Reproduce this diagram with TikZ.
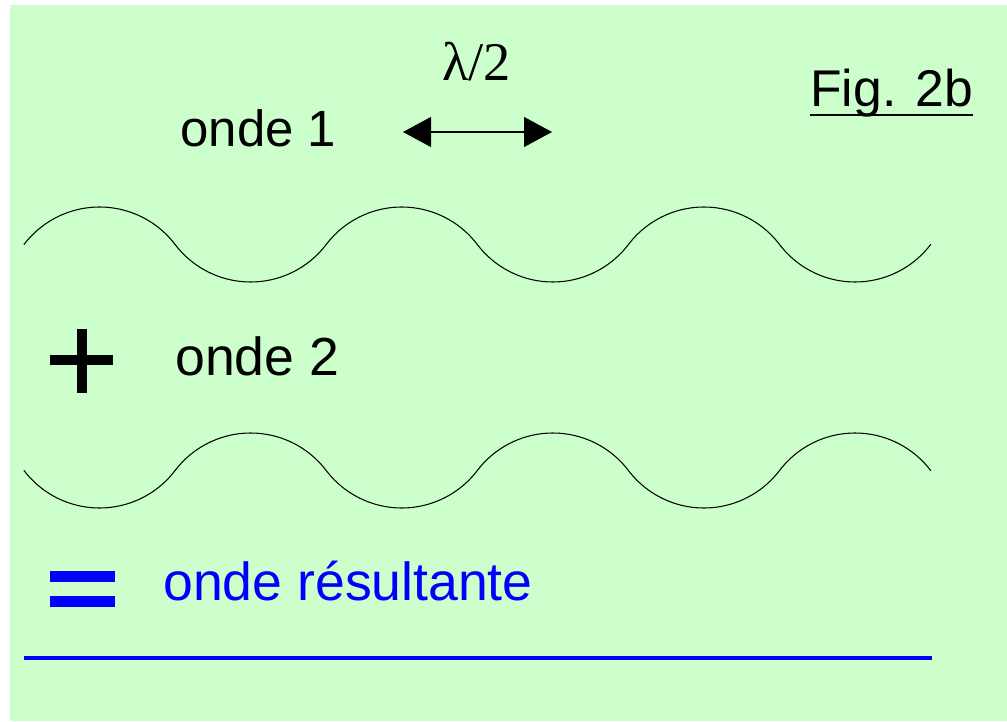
\documentclass[tikz,border=0pt]{standalone}
\usepackage{fontspec}
\setmainfont{Liberation Sans}
\newfontfamily\seriffont{Liberation Serif}
\usetikzlibrary{arrows.meta}
\definecolor{bg}{HTML}{CCFFCC}
\definecolor{pureblue}{HTML}{0000FF}
\begin{document}
\begin{tikzpicture}[x=0.02cm,y=0.02cm,
  lbl/.style={anchor=base west, inner sep=0pt, font=\fontsize{29}{34}\selectfont},
  wave/.style={line width=0.6pt, line cap=round},
  bar/.style={fill=#1, draw=none}]
\useasboundingbox (0,0) rectangle (1007,721);
\fill[bg] (10,0) rectangle (1007,716);
% onde 1
\draw[wave] (24,476.5)
  arc[start angle=142.78,end angle=37.22,radius=1.898cm]
  arc[start angle=217.22,end angle=322.78,radius=1.898cm]
  arc[start angle=142.78,end angle=37.22,radius=1.898cm]
  arc[start angle=217.22,end angle=322.78,radius=1.898cm]
  arc[start angle=142.78,end angle=37.22,radius=1.898cm]
  arc[start angle=217.22,end angle=322.78,radius=1.898cm];
% onde 2
\draw[wave] (24,250.5)
  arc[start angle=217.22,end angle=322.78,radius=1.898cm]
  arc[start angle=142.78,end angle=37.22,radius=1.898cm]
  arc[start angle=217.22,end angle=322.78,radius=1.898cm]
  arc[start angle=142.78,end angle=37.22,radius=1.898cm]
  arc[start angle=217.22,end angle=322.78,radius=1.898cm]
  arc[start angle=142.78,end angle=37.22,radius=1.898cm];
% resultant
\coordinate (rL) at (24,63);
\coordinate (rR) at (932,63);
\draw[pureblue, line width=2pt] (rL) -- (rR);
% plus
\fill[bar=black] (50,356) rectangle (113,366);
\fill[bar=black] (77,328) rectangle (87,392);
% equals
\fill[bar=pureblue] (50,139) rectangle (115,150);
\fill[bar=pureblue] (50,114) rectangle (115,125);
% labels
\node[lbl] (o1) at (180,574) {onde 1};
\node[lbl, font=\fontsize{30.5}{35}\selectfont] (o2) at (175,346) {onde 2};
\node[lbl, font=\fontsize{30.5}{35}\selectfont, text=pureblue] (o3) at (163,121) {onde résultante};
\node[lbl, font=\fontsize{29.4}{34}\selectfont] (fig) at (810,614) {Fig. 2b};
\draw[line width=1.5pt] ([yshift=-0.16cm]fig.base west) -- ([yshift=-0.16cm]fig.base east);
\node[anchor=base west, inner sep=0pt, font=\seriffont\fontsize{31}{36}\selectfont] (lam) at (442,640) {λ/2};
% arrow
\coordinate (aL) at (403,589);
\coordinate (aR) at (552,589);
\draw[line width=0.6pt, {Triangle[length=0.56cm,width=0.6cm]}-{Triangle[length=0.56cm,width=0.6cm]}] (aL) -- (aR);
\end{tikzpicture}
\end{document}
